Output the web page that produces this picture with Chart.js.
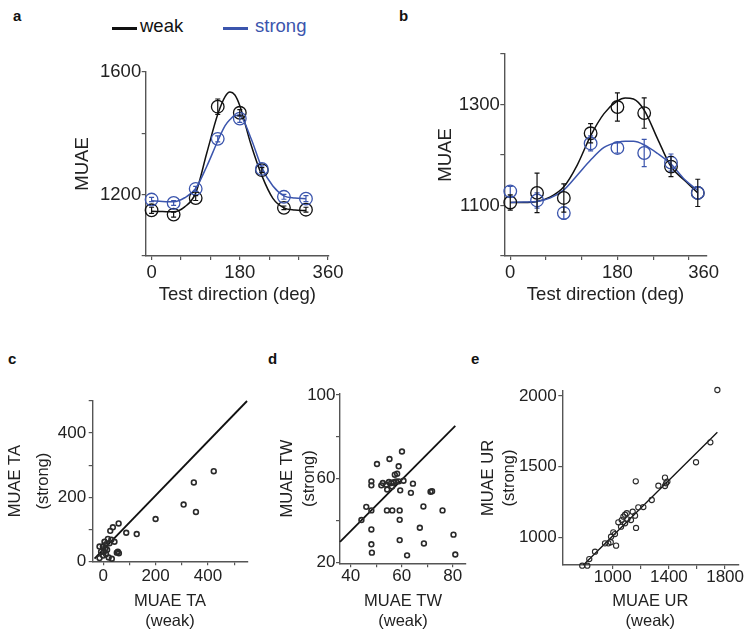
<!DOCTYPE html>
<html lang="en">
<head>
<meta charset="UTF-8" />
<title>MUAE weak vs strong</title>
<script src="https://cdn.jsdelivr.net/npm/chart.js@4.4.0/dist/chart.umd.min.js"></script>
<style>
  html, body { margin: 0; background: #fff; }
  body { width: 751px; height: 639px; position: relative; overflow: hidden; font-family: "Liberation Sans", Arial, sans-serif; color: #222; }
  canvas { position: absolute; }
  .tag { position: absolute; font-weight: bold; font-size: 15px; line-height: 15px; color: #111; }
  .key { position: absolute; font-size: 18.5px; line-height: 18.5px; }
  .swatch { position: absolute; height: 3px; width: 25px; }
</style>
</head>
<body>
<div class="tag" style="left:13px;top:8px">a</div>
<div class="tag" style="left:399px;top:8px">b</div>
<div class="tag" style="left:8px;top:351px">c</div>
<div class="tag" style="left:268px;top:351px">d</div>
<div class="tag" style="left:471px;top:351px">e</div>

<div class="swatch" style="left:112px;top:27px;background:#111"></div>
<div class="key" style="left:140px;top:17px;color:#111">weak</div>
<div class="swatch" style="left:223px;top:27px;background:#3b55ad"></div>
<div class="key" style="left:255px;top:17px;color:#3b55ad">strong</div>

<canvas id="chartA"></canvas>
<canvas id="chartB"></canvas>
<canvas id="chartC"></canvas>
<canvas id="chartD"></canvas>
<canvas id="chartE"></canvas>

<script>
// ---- data ----
const dirs = [0, 45, 90, 135, 180, 225, 270, 315];

// panel a
const aWeak = [1149, 1135, 1189, 1487, 1467, 1280, 1157, 1151];
const aWeakErr = [10, 8, 8, 25, 10, 8, 6, 8];
const aStrong = [1184, 1173, 1219, 1382, 1448, 1284, 1193, 1187];
const aStrongErr = [7, 8, 8, 10, 12, 10, 8, 10];
const aFitDir = [0, 22.5, 45, 67.5, 90, 112.5, 135, 150, 160, 170, 180, 202.5, 225, 247.5, 270, 292.5, 315];
const aFitWeak = [1146, 1145, 1144, 1160, 1205, 1335, 1462, 1520, 1535, 1525, 1490, 1365, 1262, 1188, 1157, 1150, 1148];
const aFitStrong = [1180, 1178, 1177, 1190, 1220, 1292, 1375, 1425, 1445, 1458, 1457, 1385, 1288, 1228, 1196, 1189, 1187];

// panel b
const bWeak = [1106, 1125, 1115, 1243, 1295, 1283, 1177, 1125];
const bWeakErr = [15, 39, 28, 19, 28, 30, 20, 27];
const bStrong = [1128, 1110, 1085, 1223, 1214, 1204, 1185, 1125];
const bStrongErr = [10, 15, 12, 15, 10, 27, 17, 12];
const bFitDir = [0, 22.5, 45, 67.5, 90, 112.5, 135, 157.5, 180, 193, 207, 225, 247.5, 270, 292.5, 315];
const bFitWeak = [1106, 1106, 1108, 1117, 1137, 1180, 1238, 1282, 1307, 1313, 1311, 1289, 1232, 1177, 1150, 1125];
const bFitStrong = [1106, 1107, 1108, 1115, 1131, 1160, 1190, 1215, 1225, 1227, 1227, 1220, 1203, 1182, 1152, 1130];

// panel c: MUAE TA
const cWeak = [422, 346, 307, 354, 200, 128, 88, 59, 37, 27, 18, 5, -1, -14, 11, 43, 31, 56, 60, 3, 11, 21, 33, -14, -8, 24, 8, 15, 52, 0];
const cStrong = [281, 246, 177, 154, 132, 85, 89, 118, 106, 95, 70, 61, 46, 46, 53, 61, 67, 30, 25, 30, 22, 12, 8, 10, 30, 56, 40, 36, 27, 18];
const cLineX = [-33, 549];
const cLineY = [8, 500];

// panel d: MUAE TW
const dWeak = [60.1, 55.2, 50.3, 58.8, 57.3, 58.2, 48.1, 48.1, 52, 52.6, 53.9, 55, 55.9, 56.8, 57.8, 58.9, 60.7, 54.3, 56.2, 59.4, 64.4, 63.6, 71.3, 71.9, 46.1, 48.1, 54.2, 56.3, 59.2, 59.2, 44.2, 68.5, 76, 48.1, 67.1, 59.2, 48.1, 68.7, 80.3, 48.3, 62.1, 81];
const dStrong = [73, 69.4, 67, 65.9, 61.9, 62.4, 58.7, 56.8, 56.8, 57.9, 57.1, 58.4, 57.9, 58.3, 58.7, 58.7, 59, 54.8, 56.3, 54.4, 57.6, 53.2, 53.7, 54, 46.5, 44.8, 44.8, 44.8, 44.8, 40.3, 40.2, 46.7, 44.8, 35.7, 36.5, 30.6, 28.6, 29, 33.2, 24.6, 23.3, 23.7];
const dLineX = [35.8, 81];
const dLineY = [29.8, 85.2];

// panel e: MUAE UR
const eWeak = [1745, 1695, 1593, 1164, 1325, 1372, 1380, 1389, 1372, 1278, 1218, 1182, 1142, 1159, 1088, 1104, 1130, 1064, 1040, 1059, 1088, 1166, 1004, 1016, 988, 969, 945, 986, 1024, 874, 833, 783, 819, 1076, 1100];
const eStrong = [2042, 1672, 1531, 1396, 1365, 1422, 1382, 1394, 1363, 1264, 1214, 1212, 1181, 1153, 1160, 1127, 1122, 1122, 1106, 1075, 1099, 1066, 1035, 1023, 1004, 957, 957, 965, 941, 898, 846, 799, 799, 1146, 1170];
const eLineX = [791, 1745];
const eLineY = [804, 1743];

// tick labels
const aXTicks = [0, 60, 120, 180, 240, 300, 360];
const aXText = ['0', '', '', '180', '', '', '360'];
const aYTicks = [1000, 1200, 1400, 1600];
const aYText = ['', '1200', '', '1600'];
const bXTicks = [0, 60, 120, 180, 240, 300, 325];
const bXText = ['0', '', '', '180', '', '', '360'];
const bYTicks = [1000, 1100, 1200, 1300, 1400];
const bYText = ['', '1100', '', '1300', ''];
const cXTicks = [0, 100, 200, 300, 400, 500];
const cXText = ['0', '', '200', '', '400', ''];
const cYTicks = [0, 100, 200, 300, 400, 500];
const cYText = ['0', '', '200', '', '400', ''];
const dXTicks = [40, 50, 60, 70, 80];
const dXText = ['40', '', '60', '', '80'];
const dYTicks = [20, 40, 60, 80, 100];
const dYText = ['20', '', '60', '', '100'];
const eXTicks = [1000, 1200, 1400, 1600, 1800];
const eXText = ['1000', '', '1400', '', '1800'];
const eYTicks = [1000, 1500, 2000];
const eYText = ['1000', '1500', '2000'];

// ---- styling ----
const FAMILY = "'Liberation Sans', Arial, sans-serif";
const AXIS = '#555';
const TEXT = '#222';
const INK = '#111';
const BLUE = '#3b55ad';

const pts = (xs, ys) => xs.map((x, i) => ({ x: x, y: ys[i] }));

// vertical error bars for datasets that carry an `errors` array
const errorBars = {
  id: 'errorBars',
  afterDatasetsDraw(chart) {
    const { ctx, scales: { x, y } } = chart;
    chart.data.datasets.forEach(ds => {
      if (!ds.errors) return;
      ctx.save();
      ctx.strokeStyle = ds.borderColor;
      ctx.lineWidth = 1.2;
      ds.data.forEach((p, j) => {
        const px = x.getPixelForValue(p.x);
        const top = y.getPixelForValue(p.y + ds.errors[j]);
        const bot = y.getPixelForValue(p.y - ds.errors[j]);
        ctx.beginPath();
        ctx.moveTo(px, top); ctx.lineTo(px, bot);
        ctx.moveTo(px - 2.5, top); ctx.lineTo(px + 2.5, top);
        ctx.moveTo(px - 2.5, bot); ctx.lineTo(px + 2.5, bot);
        ctx.stroke();
      });
      ctx.restore();
    });
  }
};

function axis(o, size) {
  return {
    type: 'linear', min: o.min, max: o.max,
    afterBuildTicks: s => { s.ticks = o.vals.map(v => ({ value: v })); },
    afterFit: s => { if (s.isHorizontal()) s.height = size; else s.width = size; },
    border: { display: true, color: AXIS, width: 1.4 },
    grid: {
      display: true, drawOnChartArea: false, drawTicks: true, tickLength: o.tl, lineWidth: 1.2, color: AXIS,
      tickColor: c => (o.noMark || []).includes(c.tick && c.tick.value) ? 'rgba(0,0,0,0)' : AXIS
    },
    ticks: {
      autoSkip: false, maxRotation: 0, padding: o.pad, color: TEXT,
      font: { family: FAMILY, size: o.tickSize },
      callback: (v, i) => o.text[i]
    },
    title: {
      display: true, text: o.title, color: TEXT, padding: 0,
      font: { family: FAMILY, size: o.titleSize, lineHeight: o.titleLH }
    }
  };
}

function draw(id, box, area, xs, ys, datasets) {
  const cv = document.getElementById(id);
  cv.width = box.w; cv.height = box.h;
  cv.style.left = box.x + 'px'; cv.style.top = box.y + 'px';
  const yLH = ys.titleSize * ys.titleLH;
  const xLH = xs.titleSize * xs.titleLH;
  const lines = Array.isArray(xs.title) ? xs.title.length : 1;
  const padLeft = ys.titleX - yLH / 2 - box.x;
  const bottom = xs.titleY + xLH / 2 + xLH * (lines - 1);
  new Chart(cv, {
    type: 'scatter',
    data: { datasets: datasets },
    options: {
      responsive: false, animation: false, devicePixelRatio: 1,
      layout: {
        autoPadding: false,
        padding: { left: padLeft, top: area.T - box.y, right: box.x + box.w - area.R, bottom: box.y + box.h - bottom }
      },
      plugins: { legend: { display: false }, tooltip: { enabled: false } },
      scales: { x: axis(xs, bottom - area.B), y: axis(ys, area.L - box.x - padLeft) }
    },
    plugins: [errorBars]
  });
}

function curve(xs, ys, color, order) {
  return { data: pts(xs, ys), showLine: true, borderColor: color, borderWidth: 1.5, pointRadius: 0,
    cubicInterpolationMode: 'monotone', order: order, clip: false };
}
function rings(xs, ys, err, color, order) {
  return { data: pts(xs, ys), errors: err, showLine: false, borderColor: color, pointRadius: 6.3,
    pointBorderWidth: 1.3, pointBorderColor: color, pointBackgroundColor: 'rgba(0,0,0,0)', order: order, clip: false };
}
function dots(xs, ys, r, w) {
  return { data: pts(xs, ys), showLine: false, pointRadius: r, pointBorderWidth: w, pointBorderColor: '#2a2a2a',
    pointBackgroundColor: 'rgba(255,255,255,0)', order: 0, clip: false };
}
function diag(xs, ys, w) {
  return { data: pts(xs, ys), showLine: true, borderColor: INK, borderWidth: w, pointRadius: 0, order: 1, clip: false };
}

// panel a
draw('chartA', { x: 60, y: 40, w: 290, h: 280 }, { L: 145.7, T: 72, R: 329, B: 256 },
  { min: -12, max: 362, vals: aXTicks, text: aXText, tl: 4, pad: 1.9, tickSize: 18.5,
    title: 'Test direction (deg)', titleSize: 18.5, titleLH: 1.2, titleY: 295 },
  { min: 1000, max: 1600, vals: aYTicks, text: aYText, tl: 4, pad: 0.5, tickSize: 18.5,
    title: 'MUAE', titleSize: 18.5, titleLH: 1.2, titleX: 82.5 },
  [rings(dirs, aStrong, aStrongErr, BLUE, 0), rings(dirs, aWeak, aWeakErr, INK, 1),
   curve(aFitDir, aFitStrong, BLUE, 2), curve(aFitDir, aFitWeak, INK, 3)]);

// panel b
draw('chartB', { x: 425, y: 30, w: 305, h: 290 }, { L: 504.3, T: 54, R: 706.7, B: 256 },
  { min: -10, max: 330, vals: bXTicks, text: bXText, noMark: [325], tl: 4, pad: 1.9, tickSize: 18.5,
    title: 'Test direction (deg)', titleSize: 18.5, titleLH: 1.2, titleY: 295 },
  { min: 1000, max: 1400, vals: bYTicks, text: bYText, tl: 4, pad: 0.5, tickSize: 18.5,
    title: 'MUAE', titleSize: 18.5, titleLH: 1.2, titleX: 445.5 },
  [rings(dirs, bStrong, bStrongErr, BLUE, 0), rings(dirs, bWeak, bWeakErr, INK, 1),
   curve(bFitDir, bFitStrong, BLUE, 2), curve(bFitDir, bFitWeak, INK, 3)]);

// panel c
draw('chartC', { x: 0, y: 380, w: 262, h: 259 }, { L: 92.7, T: 401, R: 247.3, B: 561.3 },
  { min: -40, max: 550, vals: cXTicks, text: cXText, tl: 4, pad: 1.2, tickSize: 17,
    title: ['MUAE TA', '(weak)'], titleSize: 16.5, titleLH: 1.212, titleY: 601.7 },
  { min: 0, max: 500, vals: cYTicks, text: cYText, tl: 4, pad: 2.5, tickSize: 17,
    title: ['MUAE TA', '(strong)'], titleSize: 16.5, titleLH: 1.74, titleX: 15 },
  [dots(cWeak, cStrong, 2.4, 1.6), diag(cLineX, cLineY, 1.8)]);

// panel d
draw('chartD', { x: 265, y: 375, w: 211, h: 264 }, { L: 340, T: 394, R: 466, B: 563.3 },
  { min: 35.8, max: 85.2, vals: dXTicks, text: dXText, tl: 4, pad: -0.8, tickSize: 17,
    title: ['MUAE TW', '(weak)'], titleSize: 16.5, titleLH: 1.212, titleY: 601.7 },
  { min: 19.5, max: 100.5, vals: dYTicks, text: dYText, tl: 4, pad: 0.5, tickSize: 17,
    title: ['MUAE TW', '(strong)'], titleSize: 16.5, titleLH: 1.333, titleX: 287.2 },
  [dots(dWeak, dStrong, 2.4, 1.6), diag(dLineX, dLineY, 1.8)]);

// panel e
draw('chartE', { x: 470, y: 370, w: 281, h: 269 }, { L: 562.3, T: 391, R: 738.3, B: 565 },
  { min: 641, max: 1894, vals: eXTicks, text: eXText, tl: 4, pad: -1.9, tickSize: 17,
    title: ['MUAE UR', '(weak)'], titleSize: 16.5, titleLH: 1.212, titleY: 601.7 },
  { min: 804, max: 2035, vals: eYTicks, text: eYText, tl: 4, pad: 1.6, tickSize: 17,
    title: ['MUAE UR', '(strong)'], titleSize: 16.5, titleLH: 1.273, titleX: 488 },
  [dots(eWeak, eStrong, 2.6, 1.1), diag(eLineX, eLineY, 1.3)]);
</script>
</body>
</html>
